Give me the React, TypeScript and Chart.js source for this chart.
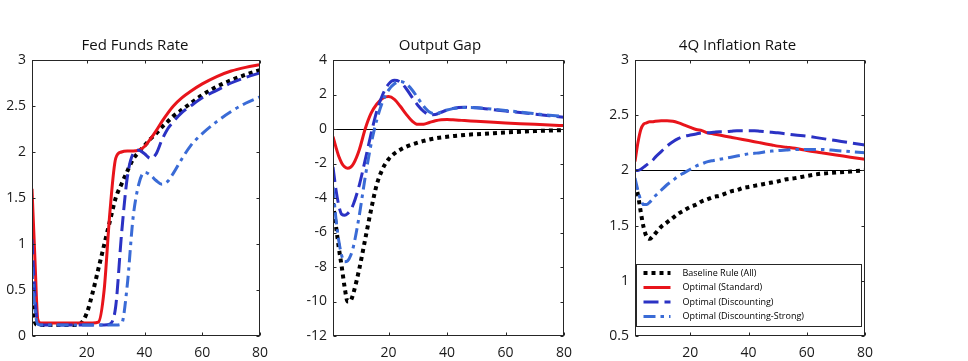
import React, { useEffect, useRef } from "react";
import { Chart, registerables } from "chart.js";

Chart.register(...registerables);

// ---------- data ----------
const quarters = [1, 2, 3, 4, 5, 6, 7, 8, 10, 12, 14, 16, 18, 20, 22, 24, 26, 28, 30, 32, 34, 36, 38, 40, 42, 44, 46, 48, 50, 53, 56, 60, 65, 70, 75, 80];
const xTicks = [20, 40, 60, 80];
const seriesLabels = ["Baseline Rule (All)", "Optimal (Standard)", "Optimal (Discounting)", "Optimal (Discounting-Strong)"];

const fedFundsTicks = [0, 0.5, 1, 1.5, 2, 2.5, 3];
const outputGapTicks = [-12, -10, -8, -6, -4, -2, 0, 2, 4];
const inflationTicks = [0.5, 1, 1.5, 2, 2.5, 3];

// Fed Funds Rate
const ffBaseline = [0.42, 0.15, 0.12, 0.12, 0.12, 0.12, 0.12, 0.12, 0.12, 0.12, 0.12, 0.12, 0.14, 0.25, 0.47, 0.73, 0.99, 1.25, 1.5, 1.65, 1.79, 1.92, 2.0, 2.07, 2.14, 2.2, 2.27, 2.33, 2.39, 2.46, 2.53, 2.62, 2.71, 2.78, 2.84, 2.89];
const ffStandard = [1.6, 0.85, 0.18, 0.14, 0.14, 0.14, 0.14, 0.14, 0.14, 0.14, 0.14, 0.14, 0.14, 0.14, 0.14, 0.15, 0.5, 1.35, 1.93, 2.0, 2.01, 2.01, 2.02, 2.06, 2.14, 2.23, 2.33, 2.42, 2.5, 2.59, 2.66, 2.74, 2.82, 2.88, 2.92, 2.95];
const ffDiscounting = [1.05, 0.45, 0.13, 0.12, 0.12, 0.12, 0.12, 0.12, 0.12, 0.12, 0.12, 0.12, 0.12, 0.12, 0.12, 0.12, 0.12, 0.13, 0.32, 1.1, 1.72, 1.98, 2.02, 1.98, 1.93, 1.98, 2.13, 2.25, 2.33, 2.43, 2.5, 2.59, 2.67, 2.75, 2.81, 2.86];
const ffStrong = [0.75, 0.3, 0.13, 0.12, 0.12, 0.12, 0.12, 0.12, 0.12, 0.12, 0.12, 0.12, 0.12, 0.12, 0.12, 0.12, 0.12, 0.12, 0.12, 0.13, 0.55, 1.28, 1.65, 1.78, 1.75, 1.69, 1.65, 1.68, 1.77, 1.93, 2.07, 2.2, 2.33, 2.44, 2.53, 2.6];

// Output Gap
const ogBaseline = [-4.3, -5.6, -6.9, -8.0, -9.2, -10.0, -9.95, -9.5, -8.1, -6.4, -4.7, -3.2, -2.3, -1.75, -1.42, -1.2, -1.03, -0.9, -0.79, -0.69, -0.61, -0.54, -0.49, -0.45, -0.41, -0.38, -0.35, -0.32, -0.3, -0.27, -0.24, -0.2, -0.16, -0.12, -0.09, -0.06];
const ogStandard = [-0.44, -1.05, -1.6, -1.98, -2.2, -2.28, -2.22, -2.02, -1.2, 0.0, 0.9, 1.45, 1.78, 1.88, 1.72, 1.32, 0.86, 0.47, 0.27, 0.28, 0.38, 0.48, 0.54, 0.55, 0.53, 0.51, 0.49, 0.47, 0.45, 0.42, 0.39, 0.35, 0.31, 0.27, 0.23, 0.2];
const ogDiscounting = [-2.2, -3.5, -4.45, -4.95, -5.0, -4.9, -4.7, -4.35, -3.25, -1.8, -0.3, 1.05, 2.0, 2.6, 2.82, 2.72, 2.35, 1.85, 1.38, 1.02, 0.83, 0.84, 0.97, 1.1, 1.19, 1.24, 1.26, 1.25, 1.23, 1.18, 1.12, 1.04, 0.95, 0.86, 0.77, 0.68];
const ogStrong = [-3.35, -5.2, -6.5, -7.35, -7.7, -7.65, -7.35, -6.8, -5.0, -2.8, -0.9, 0.55, 1.6, 2.25, 2.62, 2.75, 2.62, 2.28, 1.8, 1.32, 0.98, 0.88, 0.98, 1.1, 1.18, 1.23, 1.25, 1.25, 1.23, 1.19, 1.14, 1.07, 0.98, 0.89, 0.8, 0.72];

// 4Q Inflation Rate
const infBaseline = [1.87, 1.78, 1.62, 1.48, 1.4, 1.38, 1.4, 1.43, 1.49, 1.53, 1.57, 1.61, 1.64, 1.67, 1.69, 1.72, 1.74, 1.76, 1.77, 1.79, 1.81, 1.82, 1.84, 1.85, 1.86, 1.87, 1.88, 1.89, 1.9, 1.92, 1.93, 1.95, 1.97, 1.98, 1.99, 2.0];
const infStandard = [2.08, 2.25, 2.37, 2.42, 2.43, 2.44, 2.44, 2.445, 2.45, 2.45, 2.445, 2.43, 2.41, 2.39, 2.37, 2.36, 2.34, 2.33, 2.32, 2.31, 2.3, 2.29, 2.28, 2.27, 2.26, 2.25, 2.24, 2.23, 2.22, 2.21, 2.2, 2.18, 2.16, 2.14, 2.12, 2.1];
const infDiscounting = [2.0, 2.0, 2.01, 2.03, 2.05, 2.07, 2.09, 2.12, 2.17, 2.22, 2.26, 2.29, 2.31, 2.32, 2.33, 2.34, 2.34, 2.345, 2.35, 2.35, 2.355, 2.36, 2.36, 2.36, 2.36, 2.355, 2.35, 2.345, 2.34, 2.33, 2.32, 2.31, 2.29, 2.27, 2.25, 2.23];
const infStrong = [1.93, 1.82, 1.73, 1.69, 1.69, 1.71, 1.74, 1.77, 1.82, 1.87, 1.91, 1.95, 1.98, 2.01, 2.04, 2.06, 2.08, 2.09, 2.1, 2.11, 2.12, 2.13, 2.14, 2.15, 2.155, 2.16, 2.17, 2.175, 2.18, 2.185, 2.19, 2.19, 2.19, 2.18, 2.17, 2.16];

// ---------- styles ----------
const STYLES = [
  { color: "#000000", dash: [4, 4], width: 4 },
  { color: "#e8141b", dash: [] as number[], width: 3 },
  { color: "#2b32c4", dash: [15, 6], width: 3 },
  { color: "#3a6bd6", dash: [12, 5, 3.5, 5], width: 3 },
];
const FONT = '"Open Sans", "Noto Sans", sans-serif';
const H = 361;

type PanelProps = {
  title: string;
  series: number[][];
  yTicks: number[];
  refLine?: number;
  legend?: boolean;
  left: number;
  width: number;
  axisWidth: number;
  padRight: number;
  titleX: number;
};

function Panel(p: PanelProps) {
  const ref = useRef<HTMLCanvasElement>(null);
  useEffect(() => {
    const canvas = ref.current;
    if (!canvas) return;
    const datasets = p.series.map((vals, i) => ({
      label: seriesLabels[i],
      data: quarters.map((q, j) => ({ x: q, y: vals[j] })),
      borderColor: STYLES[i].color,
      backgroundColor: STYLES[i].color,
      borderWidth: STYLES[i].width,
      borderDash: STYLES[i].dash,
      borderCapStyle: "butt" as const,
      pointRadius: 0,
      fill: false,
      cubicInterpolationMode: "monotone" as const,
      order: 4 - i,
    }));

    const framePlugin = {
      id: "frame",
      beforeDatasetsDraw(chart: any) {
        if (p.refLine === undefined) return;
        const { ctx, chartArea: ca, scales } = chart;
        const y = Math.round(scales.y.getPixelForValue(p.refLine)) + 0.5;
        ctx.save();
        ctx.strokeStyle = "#000";
        ctx.lineWidth = 1;
        ctx.beginPath();
        ctx.moveTo(ca.left, y);
        ctx.lineTo(ca.right, y);
        ctx.stroke();
        ctx.restore();
      },
      afterDraw(chart: any) {
        const { ctx, chartArea: ca, scales } = chart;
        ctx.save();
        // box
        ctx.strokeStyle = "#262626";
        ctx.lineWidth = 1;
        const l = Math.round(ca.left) + 0.5;
        const r = Math.round(ca.right) - 0.5;
        const t = Math.round(ca.top) + 0.5;
        const b = Math.round(ca.bottom) - 0.5;
        ctx.strokeRect(l, t, r - l, b - t);
        // inward ticks
        const tl = 3;
        ctx.beginPath();
        xTicks.forEach((v) => {
          const x = Math.round(scales.x.getPixelForValue(v)) + 0.5;
          ctx.moveTo(x, b);
          ctx.lineTo(x, b - tl);
          ctx.moveTo(x, t);
          ctx.lineTo(x, t + tl);
        });
        p.yTicks.forEach((v) => {
          const y = Math.round(scales.y.getPixelForValue(v)) + 0.5;
          ctx.moveTo(l, y);
          ctx.lineTo(l + tl, y);
          ctx.moveTo(r, y);
          ctx.lineTo(r - tl, y);
        });
        ctx.stroke();
        // title
        ctx.fillStyle = "#111";
        ctx.font = `15px ${FONT}`;
        ctx.textAlign = "center";
        ctx.textBaseline = "alphabetic";
        ctx.fillText(p.title, p.titleX, 50);
        // legend
        if (p.legend) {
          const bx = Math.round(ca.left) + 1.5;
          const bw = 225;
          const by = 264.5;
          const bh = 62;
          ctx.fillStyle = "#fff";
          ctx.fillRect(bx, by, bw, bh);
          ctx.strokeStyle = "#262626";
          ctx.lineWidth = 1;
          ctx.strokeRect(bx, by, bw, bh);
          const rows = [273, 287.5, 302, 316.5];
          chart.data.datasets.forEach((ds: any, i: number) => {
            const y = rows[i];
            ctx.save();
            ctx.strokeStyle = ds.borderColor;
            ctx.lineWidth = ds.borderWidth;
            ctx.setLineDash(ds.borderDash);
            ctx.lineCap = "butt";
            ctx.beginPath();
            ctx.moveTo(bx + 7, y);
            ctx.lineTo(bx + 34, y);
            ctx.stroke();
            ctx.restore();
            ctx.fillStyle = "#000";
            ctx.font = `9px ${FONT}`;
            ctx.textAlign = "left";
            ctx.textBaseline = "middle";
            ctx.fillText(ds.label, bx + 46, y);
          });
        }
        ctx.restore();
      },
    };

    const chart = new Chart(canvas, {
      type: "line",
      data: { datasets },
      options: {
        animation: false,
        responsive: false,
        devicePixelRatio: 1,
        layout: { padding: { top: 60, right: p.padRight, bottom: 0, left: 0 } },
        plugins: {
          legend: { display: false },
          tooltip: { enabled: false },
          title: { display: false },
        },
        scales: {
          x: {
            type: "linear",
            min: 1,
            max: 80,
            grid: { display: false, drawTicks: false },
            border: { display: false },
            afterBuildTicks: (s: any) => {
              s.ticks = xTicks.map((v) => ({ value: v }));
            },
            afterFit: (s: any) => {
              s.height = 25;
            },
            ticks: {
              font: { family: FONT, size: 14 },
              color: "#1a1a1a",
              padding: 9,
              maxRotation: 0,
              autoSkip: false,
              callback: (v: any) => String(v),
            },
          },
          y: {
            type: "linear",
            min: p.yTicks[0],
            max: p.yTicks[p.yTicks.length - 1],
            grid: { display: false, drawTicks: false },
            border: { display: false },
            afterBuildTicks: (s: any) => {
              s.ticks = p.yTicks.map((v) => ({ value: v }));
            },
            afterFit: (s: any) => {
              s.width = p.axisWidth;
            },
            ticks: {
              font: { family: FONT, size: 14 },
              color: "#1a1a1a",
              padding: 6,
              autoSkip: false,
              callback: (v: any) => String(v),
            },
          },
        },
      } as any,
      plugins: [framePlugin],
    });
    return () => chart.destroy();
  }, []);
  return (
    <canvas
      ref={ref}
      width={p.width}
      height={H}
      style={{ position: "absolute", left: p.left, top: 0, width: p.width, height: H }}
    />
  );
}

export default function App() {
  return (
    <div style={{ position: "fixed", left: 0, top: 0, width: 968, height: H, background: "#fff", overflow: "hidden" }}>
      <Panel
        title="Fed Funds Rate"
        series={[ffBaseline, ffStandard, ffDiscounting, ffStrong]}
        yTicks={fedFundsTicks}
        left={0}
        width={300}
        axisWidth={32}
        padRight={40}
        titleX={135}
      />
      <Panel
        title="Output Gap"
        series={[ogBaseline, ogStandard, ogDiscounting, ogStrong]}
        yTicks={outputGapTicks}
        refLine={0}
        left={300}
        width={300}
        axisWidth={33}
        padRight={36}
        titleX={140}
      />
      <Panel
        title="4Q Inflation Rate"
        series={[infBaseline, infStandard, infDiscounting, infStrong]}
        yTicks={inflationTicks}
        refLine={2}
        legend
        left={600}
        width={368}
        axisWidth={35}
        padRight={103}
        titleX={137.5}
      />
    </div>
  );
}
